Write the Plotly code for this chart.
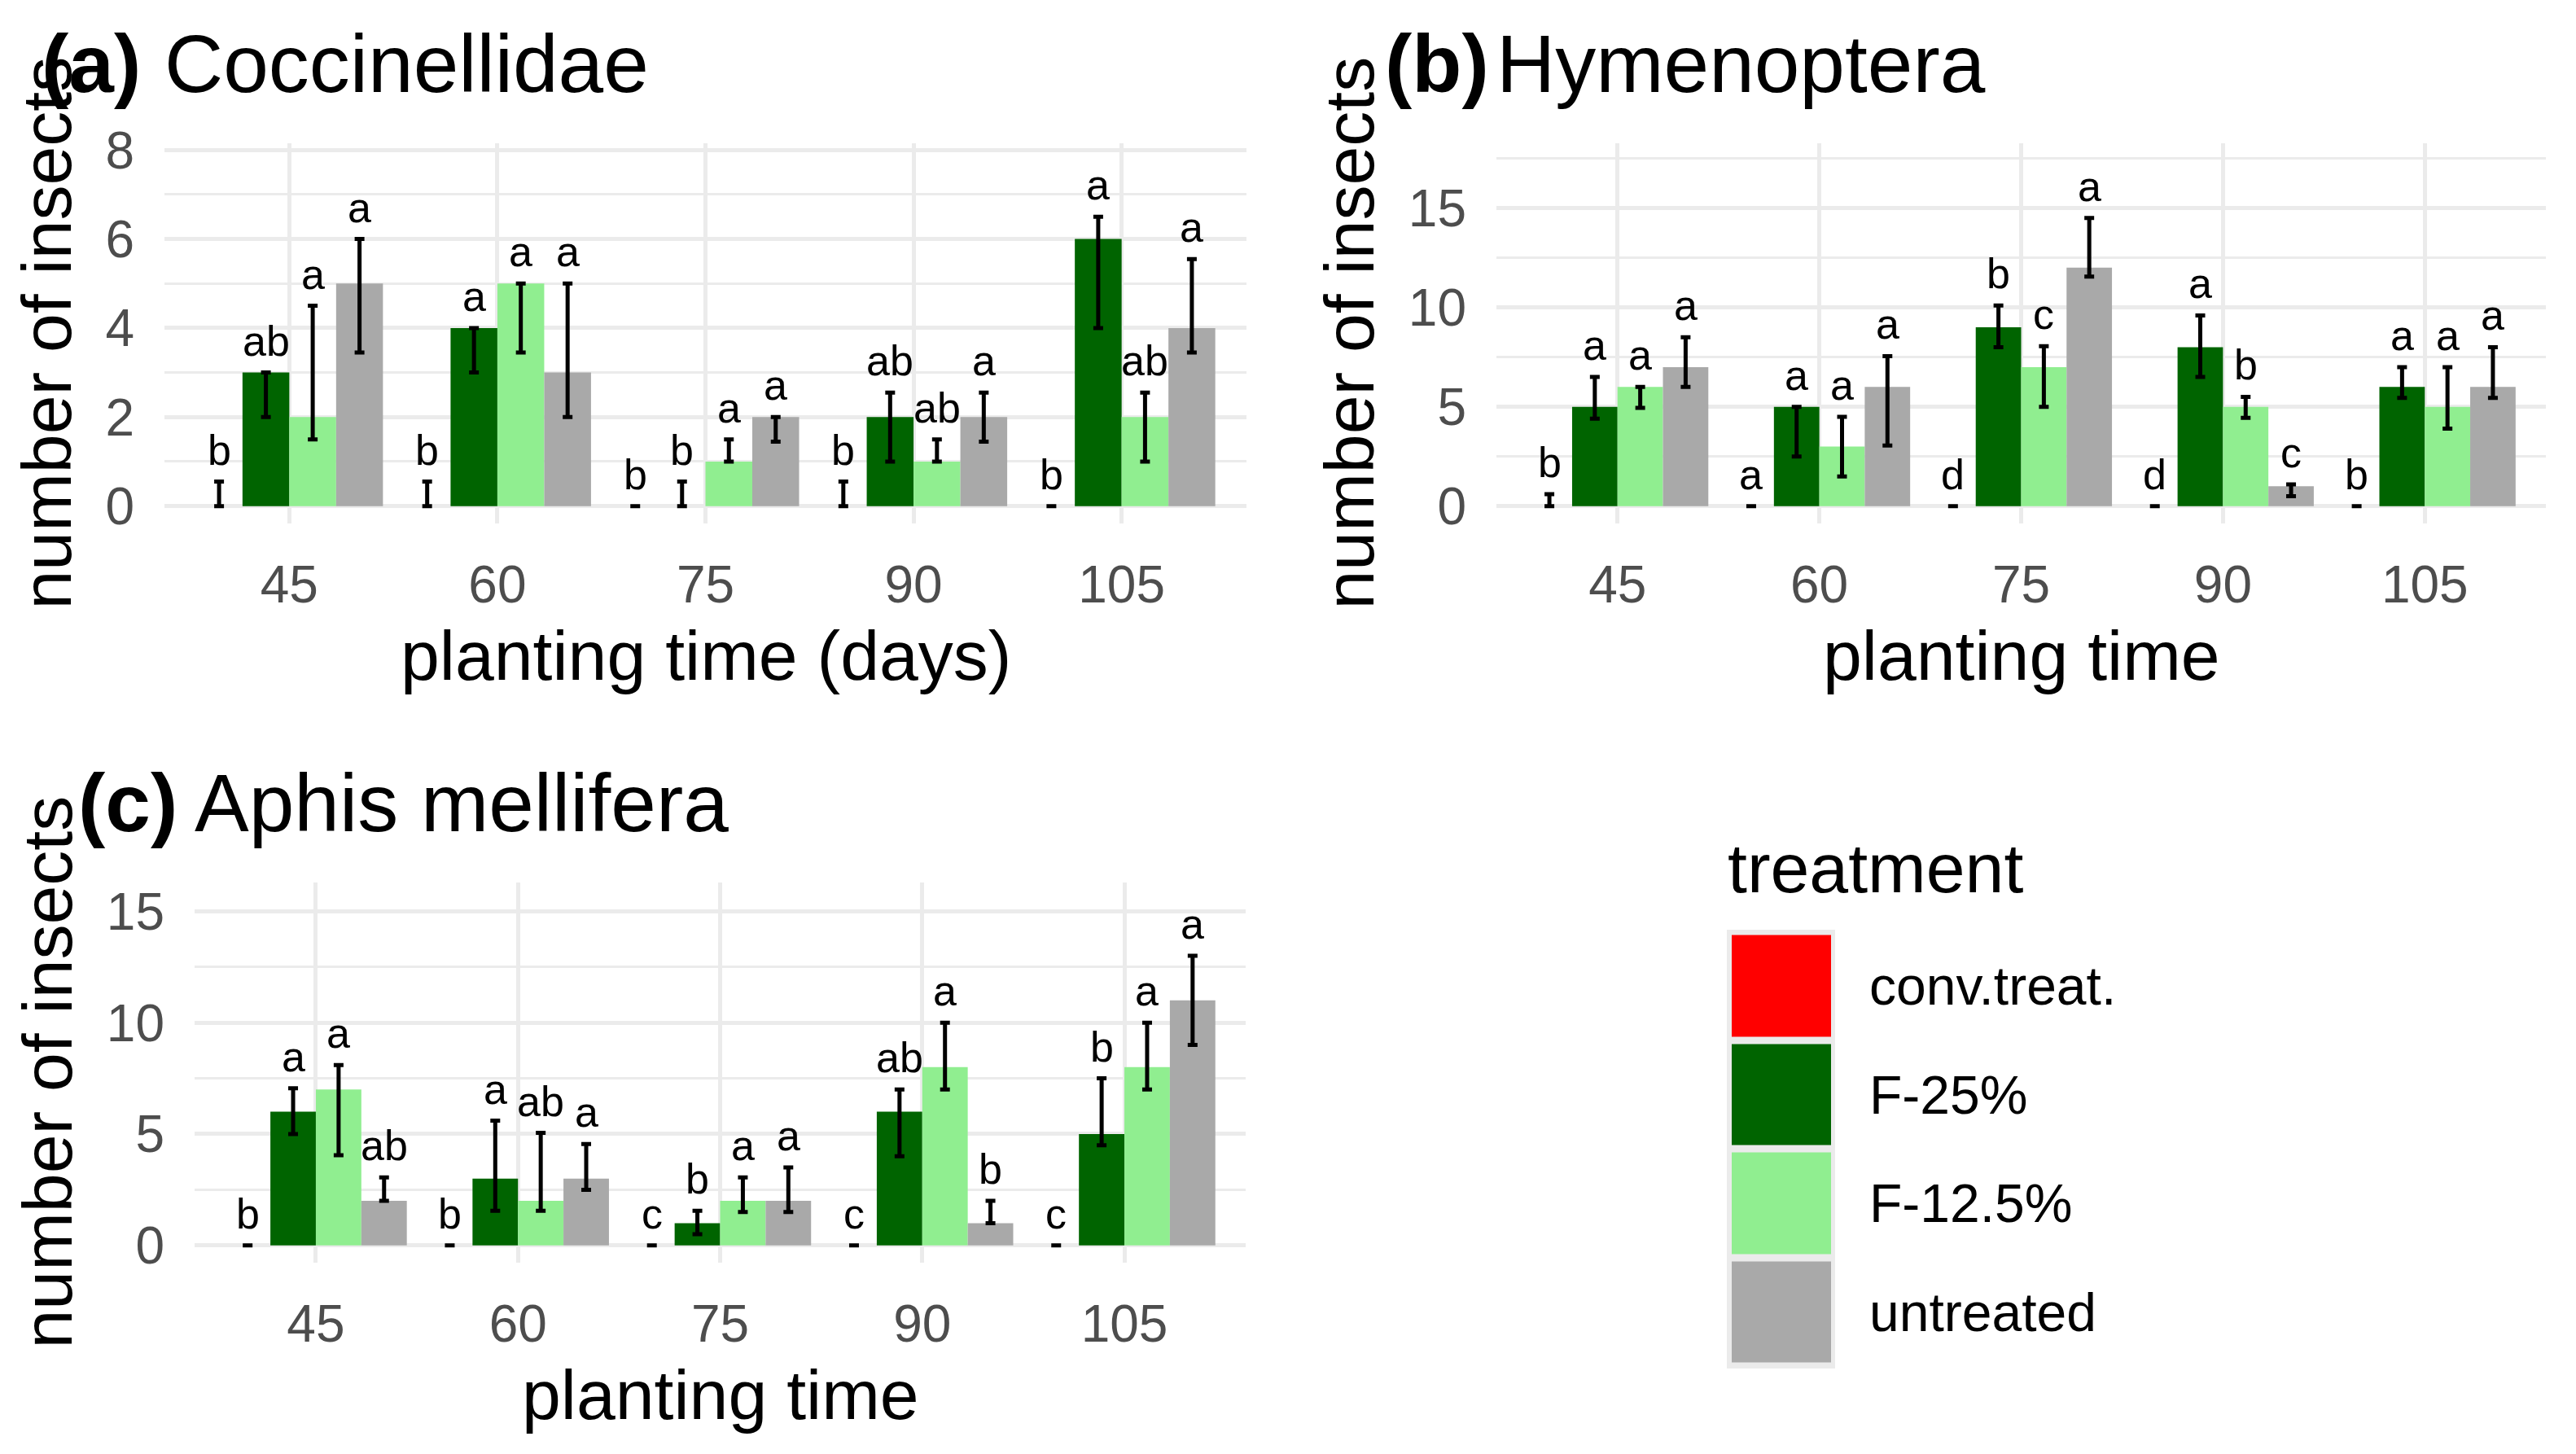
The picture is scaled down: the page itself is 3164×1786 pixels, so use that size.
import plotly.graph_objects as go

W, H = 3164, 1786
OFF = 8  # the page body margin moves the figure by this many pixels

days = ["45", "60", "75", "90", "105"]
treatments = ["conv.treat.", "F-25%", "F-12.5%", "untreated"]
colors = ["#FF0000", "#006400", "#90EE90", "#A9A9A9"]

# rows follow treatments, columns follow days
# (a) Coccinellidae
cocc_mean = [[0, 0, 0, 0, 0], [3, 4, 0, 2, 6], [2, 5, 1, 1, 2], [5, 3, 2, 2, 4]]
cocc_low = [[0, 0, 0, 0, 0], [2, 3, 0, 1, 4], [1.5, 3.45, 1, 1, 1], [3.45, 2, 1.45, 1.45, 3.45]]
cocc_high = [[0.55, 0.55, 0, 0.55, 0], [3, 4, 0.55, 2.55, 6.5], [4.5, 5, 1.5, 1.5, 2.55], [6, 5, 2, 2.55, 5.55]]
cocc_letters = [["b", "b", "b", "b", "b"], ["ab", "a", "b", "ab", "a"],
                ["a", "a", "a", "ab", "ab"], ["a", "a", "a", "a", "a"]]

# (b) Hymenoptera
hym_mean = [[0, 0, 0, 0, 0], [5, 5, 9, 8, 6], [6, 3, 7, 5, 5], [7, 6, 12, 1, 6]]
hym_low = [[0, 0, 0, 0, 0], [4.4, 2.5, 8, 6.5, 5.45], [4.95, 1.5, 5, 4.45, 3.9], [6, 3.05, 11.55, 0.5, 5.45]]
hym_high = [[0.6, 0, 0, 0, 0], [6.5, 5, 10.1, 9.6, 7], [6, 4.5, 8.05, 5.5, 7], [8.5, 7.55, 14.5, 1.1, 8]]
hym_letters = [["b", "a", "d", "d", "b"], ["a", "a", "b", "a", "a"],
               ["a", "a", "c", "b", "a"], ["a", "a", "a", "c", "a"]]

# (c) Aphis mellifera
aph_mean = [[0, 0, 0, 0, 0], [6, 3, 1, 6, 5], [7, 2, 2, 8, 8], [2, 3, 2, 1, 11]]
aph_low = [[0, 0, 0, 0, 0], [5, 1.55, 0.5, 4, 4.5], [4.05, 1.55, 1.5, 7, 7], [2, 2.5, 1.5, 1, 9]]
aph_high = [[0, 0, 0, 0, 0], [7.05, 5.6, 1.55, 7, 7.5], [8.1, 5.05, 3.05, 10, 10], [3.05, 4.55, 3.5, 2, 13]]
aph_letters = [["b", "b", "c", "c", "c"], ["a", "a", "b", "ab", "b"],
               ["a", "ab", "a", "a", "a"], ["ab", "a", "a", "b", "a"]]


def px_x(v):
    return (v - OFF) / W


def px_y(v):
    return 1 - (v - OFF) / H


FONT = "Liberation Sans, Arial, sans-serif"
GRID = "#EBEBEB"

panels = [
    # suffix, data, x px range, y px range, y range, dtick, tag, title, x title, tag right, y title x, title y
    ("", cocc_mean, cocc_low, cocc_high, cocc_letters, (202, 1531), (176, 643), [-0.39, 8.15], 2,
     "(a)", "Coccinellidae", "planting time (days)", 175, 57, 78),
    ("2", hym_mean, hym_low, hym_high, hym_letters, (1838, 3127), (176, 643), [-0.87, 18.26], 5,
     "(b)", "Hymenoptera", "planting time", 1831, 1657, 78),
    ("3", aph_mean, aph_low, aph_high, aph_letters, (239, 1530), (1084, 1551), [-0.775, 16.29], 5,
     "(c)", "Aphis mellifera", "planting time", 220, 57, 986),
]

fig = go.Figure()
annotations = []
idx = list(range(len(days)))
bar_w = 0.9 / len(treatments)

for (suf, mean, low, high, letters, xr, yr, yrange, dtick,
     tag, title, xtitle, tag_right, ytitle_x, title_y) in panels:
    xa, ya = "x" + suf, "y" + suf
    for k, name in enumerate(treatments):
        fig.add_trace(go.Bar(
            x=idx, y=mean[k], name=name,
            marker=dict(color=colors[k], line=dict(width=0)),
            error_y=dict(type="data", symmetric=False,
                         array=[h - m for h, m in zip(high[k], mean[k])],
                         arrayminus=[m - l for m, l in zip(mean[k], low[k])],
                         color="black", thickness=5, width=6),
            xaxis=xa, yaxis=ya, showlegend=False, hoverinfo="skip",
        ))
        for i in idx:
            annotations.append(dict(
                x=i + (k - 1.5) * bar_w, y=high[k][i], xref=xa, yref=ya,
                text=letters[k][i], showarrow=False, xanchor="center", yanchor="bottom",
                yshift=8, font=dict(size=52, color="black", family=FONT),
            ))

    fig.layout["xaxis" + suf] = dict(
        domain=[px_x(xr[0]), px_x(xr[1])], anchor=ya, range=[-0.6, 4.6],
        tickmode="array", tickvals=idx, ticktext=days, automargin=False,
        showgrid=True, gridcolor=GRID, gridwidth=5, zeroline=False, showline=False,
        ticks="", ticklabelstandoff=32, tickfont=dict(size=64, color="#4D4D4D", family=FONT),
        fixedrange=True,
    )
    fig.layout["yaxis" + suf] = dict(
        domain=[px_y(yr[1]), px_y(yr[0])], anchor=xa, range=yrange, automargin=False,
        tick0=0, dtick=dtick, showgrid=True, gridcolor=GRID, gridwidth=5,
        minor=dict(tick0=0, dtick=dtick / 2, showgrid=True, gridcolor=GRID, gridwidth=2.5),
        zeroline=False, showline=False, ticks="", ticklabelstandoff=36,
        tickfont=dict(size=64, color="#4D4D4D", family=FONT), fixedrange=True,
    )

    # panel tag and title
    annotations.append(dict(
        x=px_x(tag_right), y=px_y(title_y), xref="paper", yref="paper",
        text="<b>" + tag + "</b>", showarrow=False, xanchor="right", yanchor="middle",
        font=dict(size=100, color="black", family=FONT),
    ))
    annotations.append(dict(
        x=px_x(xr[0] - 2), y=px_y(title_y), xref="paper", yref="paper",
        text=title, showarrow=False, xanchor="left", yanchor="middle",
        font=dict(size=100, color="black", family=FONT),
    ))
    # axis titles
    annotations.append(dict(
        x=px_x((xr[0] + xr[1]) / 2), y=px_y(yr[1] + 162), xref="paper", yref="paper",
        text=xtitle, showarrow=False, xanchor="center", yanchor="middle",
        font=dict(size=86, color="black", family=FONT),
    ))
    annotations.append(dict(
        x=px_x(ytitle_x), y=px_y((yr[0] + yr[1]) / 2), xref="paper", yref="paper",
        text="number of insects", textangle=-90, showarrow=False,
        xanchor="center", yanchor="middle",
        font=dict(size=86, color="black", family=FONT),
    ))

# legend drawn as a small heatmap of the four treatment colours
fig.add_trace(go.Heatmap(
    z=[[0], [1], [2], [3]], x=[0], y=treatments,
    colorscale=[[0, colors[0]], [0.25, colors[0]], [0.25, colors[1]], [0.5, colors[1]],
                [0.5, colors[2]], [0.75, colors[2]], [0.75, colors[3]], [1, colors[3]]],
    zmin=0, zmax=3, showscale=False, ygap=9, xaxis="x4", yaxis="y4", hoverinfo="skip",
))
fig.layout["xaxis4"] = dict(domain=[px_x(2127), px_x(2249)], anchor="y4", visible=False,
                            automargin=False, fixedrange=True)
fig.layout["yaxis4"] = dict(domain=[px_y(1678.5), px_y(1144.5)], anchor="x4", side="right",
                            type="category", autorange="reversed", showgrid=False,
                            automargin=False, zeroline=False, showline=False, ticks="",
                            ticklabelstandoff=46,
                            tickfont=dict(size=66, color="black", family=FONT), fixedrange=True)
annotations.append(dict(
    x=px_x(2120), y=px_y(1066), xref="paper", yref="paper", text="treatment",
    showarrow=False, xanchor="left", yanchor="middle",
    font=dict(size=86, color="black", family=FONT),
))

fig.update_layout(
    template="none",
    width=W, height=H, margin=dict(l=0, r=0, t=0, b=0, pad=0),
    barmode="group", bargap=0.1, bargroupgap=0,
    paper_bgcolor="white", plot_bgcolor="rgba(0,0,0,0)",
    font=dict(family=FONT, color="black"),
    annotations=annotations,
    shapes=[dict(type="rect", xref="paper", yref="paper",
                 x0=px_x(2121), x1=px_x(2254), y0=px_y(1681), y1=px_y(1142),
                 fillcolor=GRID, line=dict(width=0), layer="below")],
    showlegend=False,
)

fig.write_html("out.html")
